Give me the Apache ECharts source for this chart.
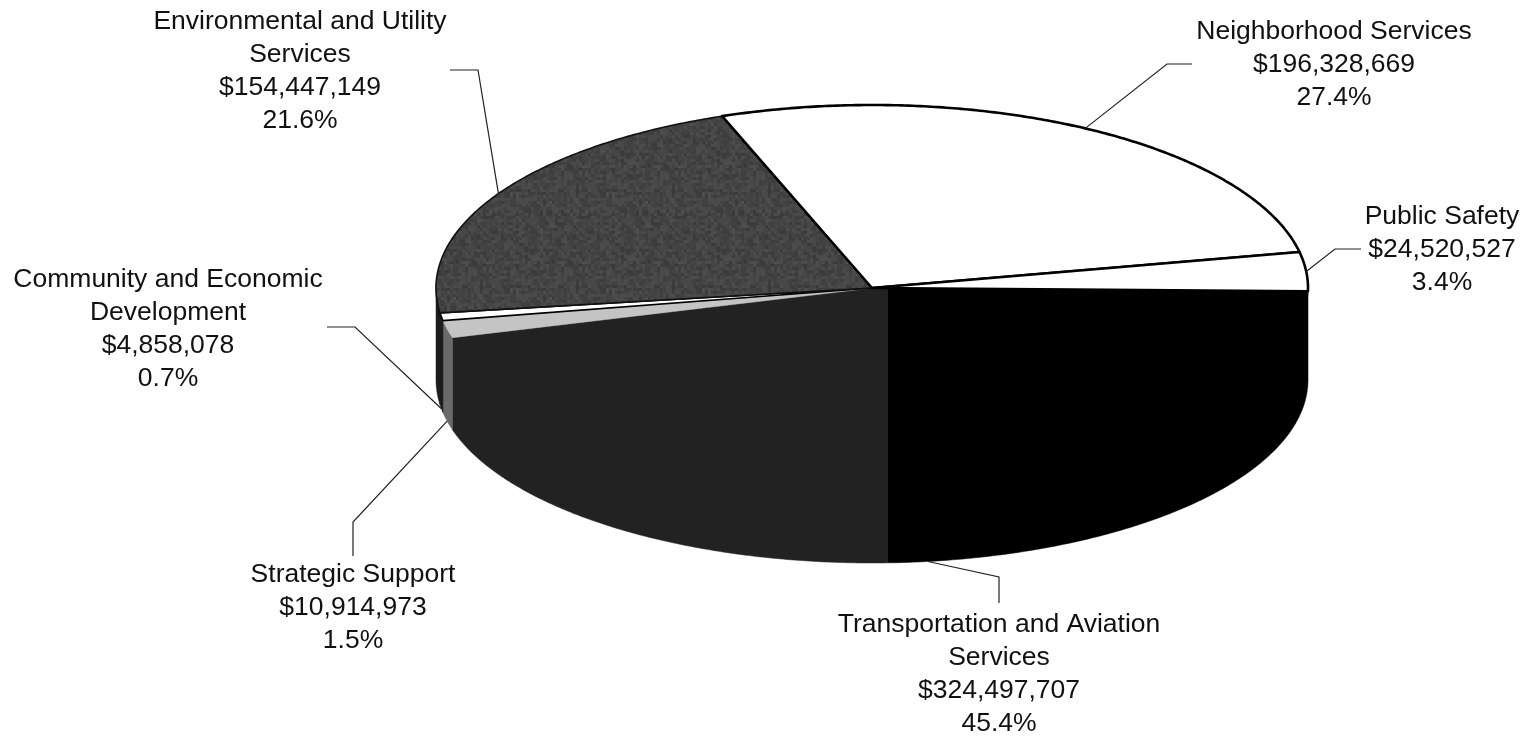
<!DOCTYPE html>
<html>
<head>
<meta charset="utf-8">
<style>html,body{margin:0;padding:0;background:#fff}#c{width:1526px;height:737px}</style>
<script src="https://cdn.jsdelivr.net/npm/echarts@6/dist/echarts.min.js"></script>
</head>
<body>
<div id="c"></div>
<script>
// Data, clockwise from the 3 o'clock edge
var categories = ['Transportation and Aviation\nServices', 'Strategic Support', 'Community and Economic\nDevelopment', 'Environmental and Utility\nServices', 'Neighborhood Services', 'Public Safety'];
var amounts = [324497707, 10914973, 4858078, 154447149, 196328669, 24520527];
var percents = ['45.4%', '1.5%', '0.7%', '21.6%', '27.4%', '3.4%'];

// Layout and styling
var CX = 872, CY = 288, RX = 436, RY = 183, DEPTH = 92, START_DEG = 1.0, SPLIT_X = 888;
var labelX = [999, 353, 168, 300, 1334, 1442];
var labelY = [674, 608, 329.5, 71, 64.5, 250];
var elbowA = [[999, 577], [353, 522], [355, 327], [478, 70], [1167, 64], [1335, 249]];
var elbowB = [[999, 603], [353, 556], [327, 327], [450, 70], [1192, 64], [1361, 249]];

var splitStop = (SPLIT_X - (CX - RX)) / (2 * RX);
var transportFill = {
  type: 'linear', x: CX - RX, y: 0, x2: CX + RX, y2: 0, global: true,
  colorStops: [{offset: 0, color: '#222222'}, {offset: splitStop, color: '#222222'}, {offset: splitStop, color: '#000000'}, {offset: 1, color: '#000000'}]
};
// mottled print texture for the dark grey slice
function mottle() {
  var cv = document.createElement('canvas'), s = 96, cell = 3;
  cv.width = cv.height = s;
  var g = cv.getContext('2d');
  for (var y = 0; y < s; y += cell) for (var x = 0; x < s; x += cell) {
    var h = Math.sin(x * 12.9898 + y * 78.233) * 43758.5453;
    h = h - Math.floor(h);
    var v = Math.round(58 + h * 20);
    g.fillStyle = 'rgb(' + v + ',' + v + ',' + v + ')';
    g.fillRect(x, y, cell, cell);
  }
  return {image: cv, repeat: 'repeat'};
}
var topFill = [transportFill, '#c4c4c4', '#ffffff', mottle(), '#ffffff', '#ffffff'];
var sideFill = [transportFill, '#6a6a6a', '#1c1c1c', '#1c1c1c', '#ffffff', '#ffffff'];
var topStroke = [transportFill, '#c4c4c4', '#000', '#111', '#000', '#000'];
var topStrokeWidth = [1, 0.5, 1.6, 1.6, 2.6, 2.6];

var total = amounts.reduce(function (a, b) { return a + b; }, 0);
function sliceRange(i, v) {
  var before = 0;
  for (var k = 0; k < i; k++) before += amounts[k];
  var a0 = START_DEG + before / total * 360;
  return [a0, a0 + v / total * 360];
}
function pt(deg, dy) {
  var t = deg * Math.PI / 180;
  return [CX + RX * Math.cos(t), CY + RY * Math.sin(t) + (dy || 0)];
}
function arc(a0, a1, dy) {
  var n = Math.max(2, Math.ceil(Math.abs(a1 - a0) * 2)), out = [];
  for (var i = 0; i <= n; i++) out.push(pt(a0 + (a1 - a0) * i / n, dy));
  return out;
}
function money(v) { return '$' + v.toLocaleString('en-US'); }

var rows = amounts.map(function (v, i) { return [v, i]; });

var option = {
  animation: false,
  backgroundColor: '#ffffff',
  series: [
    { // walls of the slab: visible only on the front half of the ellipse; they run under the top face so no seam shows
      type: 'custom', coordinateSystem: 'none', silent: true, z: 1, data: rows,
      renderItem: function (params, api) {
        var i = params.dataIndex, r = sliceRange(i, api.value(0));
        var a0 = i === 0 ? 0 : r[0], a1 = Math.min(r[1], 180), children = [];
        if (a1 > a0) {
          var pts = arc(a0, a1, -5).concat(arc(a1, a0, DEPTH));
          children.push({type: 'polygon', shape: {points: pts}, style: {fill: sideFill[i], stroke: sideFill[i], lineWidth: 0.5}});
        }
        return {type: 'group', children: children};
      }
    },
    { // top faces
      type: 'custom', coordinateSystem: 'none', silent: true, z: 2, data: rows,
      renderItem: function (params, api) {
        var i = params.dataIndex, r = sliceRange(i, api.value(0));
        var pts = [[CX, CY]].concat(arc(r[0], r[1], 0));
        return {
          type: 'polygon', shape: {points: pts},
          style: {fill: topFill[i], stroke: topStroke[i], lineWidth: topStrokeWidth[i], lineJoin: 'round'}
        };
      }
    },
    { // leader lines and labels
      type: 'custom', coordinateSystem: 'none', silent: true, z: 3, data: rows,
      renderItem: function (params, api) {
        var i = params.dataIndex, r = sliceRange(i, api.value(0));
        var mid = (r[0] + r[1]) / 2;
        var front = Math.sin(mid * Math.PI / 180) > 0;
        var anchor = pt(mid, front ? DEPTH : 0);
        var text = [categories[i], money(api.value(0)), percents[i]].join('\n');
        return {
          type: 'group',
          children: [
            {type: 'polyline', shape: {points: [anchor, elbowA[i], elbowB[i]]}, style: {fill: 'none', stroke: '#222', lineWidth: 1.2}},
            {type: 'text', style: {text: text, x: labelX[i], y: labelY[i], align: 'center', verticalAlign: 'middle', font: '26.5px "Liberation Sans", Arial, sans-serif', lineHeight: 33, fill: '#111'}}
          ]
        };
      }
    }
  ]
};
echarts.init(document.getElementById('c'), null, {renderer: 'canvas'}).setOption(option);
</script>
</body>
</html>
